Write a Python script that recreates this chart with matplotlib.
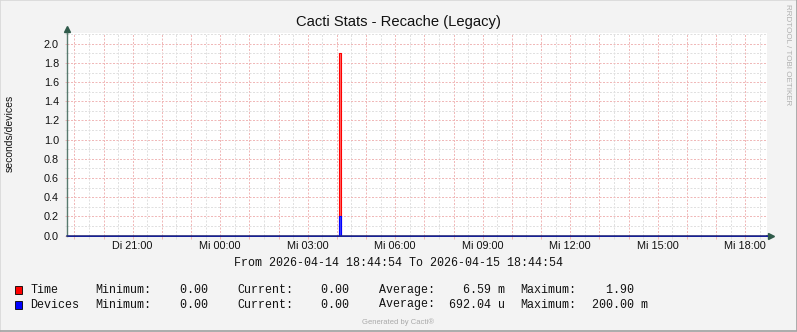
import matplotlib
matplotlib.use('Agg')
import matplotlib.pyplot as plt
import matplotlib.dates as mdates
from matplotlib.ticker import MultipleLocator, FuncFormatter
from matplotlib.lines import Line2D
from matplotlib.patches import Rectangle
import pandas as pd

# time range shown
start = pd.Timestamp('2026-04-14 18:44:54')
end = pd.Timestamp('2026-04-15 18:44:54')

# samples (step data, value holds until next sample)
sample_times = pd.to_datetime(['2026-04-14 18:44:54', '2026-04-15 04:03:30',
                               '2026-04-15 04:09:00', '2026-04-15 18:44:54'])
time_values = [0.0, 1.90, 0.0, 0.0]
device_values = [0.0, 0.20, 0.0, 0.0]

weekday_de = ['Mo', 'Di', 'Mi', 'Do', 'Fr', 'Sa', 'So']

# legend stats
series_names = ['Time', 'Devices']
series_colors = ['#FF0000', '#0000FF']
min_values = [0.00, 0.00]
min_units = ['', '']
cur_values = [0.00, 0.00]
cur_units = ['', '']
avg_values = [6.59, 692.04]
avg_units = ['m', 'u']
max_values = [1.90, 200.00]
max_units = ['', 'm']

W, H = 797, 332
def fx(px):
    return px / W
def fy(py):
    return 1 - py / H

fig = plt.figure(figsize=(W / 100, H / 100), dpi=100, facecolor='#f3f3f3')

left, right, top, bottom = 67, 767, 33, 235.5
ax = fig.add_axes([fx(left), fy(bottom), (right - left) / W, (bottom - top) / H])
ax.set_facecolor('white')

sans = 'Liberation Sans'
mono = 'Liberation Mono'

ax.fill_between(sample_times, time_values, step='post', facecolor='#ff6a6a',
                edgecolor='#ff0000', linewidth=0.8, zorder=3)
ax.fill_between(sample_times, device_values, step='post', facecolor='#4040ff',
                edgecolor='#0000ff', linewidth=0.8, zorder=4)

ax.set_xlim(start, end)
ax.set_ylim(0, 2.112)

# grid: red every hour / 0.2, grey every half hour / 0.1
ax.xaxis.set_major_locator(mdates.HourLocator(interval=1))
ax.xaxis.set_minor_locator(mdates.MinuteLocator(byminute=[30]))
ax.yaxis.set_major_locator(MultipleLocator(0.2))
ax.yaxis.set_minor_locator(MultipleLocator(0.1))


def xfmt(x, pos):
    t = pd.Timestamp(mdates.num2date(x)).tz_localize(None).round('min')
    if t.hour % 3 == 0 and t.minute == 0:
        return f"{weekday_de[t.weekday()]} {t:%H:%M}"
    return ''


ax.xaxis.set_major_formatter(FuncFormatter(xfmt))
ax.yaxis.set_major_formatter(FuncFormatter(lambda v, p: f"{v:.1f}"))

dash = (0, (2, 1.5))
ax.grid(which='major', color='#f0b8b8', linestyle=dash, linewidth=0.72)
ax.grid(which='minor', color='#e0e0e0', linestyle=dash, linewidth=0.72)
ax.set_axisbelow(True)

ax.tick_params(which='major', length=1.8, width=0.72, color='#f0b8b8')
ax.tick_params(which='minor', length=1.8, width=0.72, color='#e0e0e0')
ax.tick_params(axis='y', which='major', pad=4, labelsize=7.8)
ax.tick_params(axis='x', which='major', pad=2, labelsize=7.8)
for lab in ax.get_xticklabels() + ax.get_yticklabels():
    lab.set_family(sans)
    lab.set_color('#111111')

for s in ['top', 'right']:
    ax.spines[s].set_visible(False)
ax.spines['left'].set_color('#587a6e')
ax.spines['left'].set_linewidth(1.0)
ax.spines['bottom'].set_color('#1e2a78')
ax.spines['bottom'].set_linewidth(1.1)
ax.spines['left'].set_zorder(5)
ax.spines['bottom'].set_zorder(5)

# axis extensions and arrows
ax.plot([0, 0], [1, 1.02], transform=ax.transAxes, color='#587a6e', lw=1.0, clip_on=False)
ax.plot([1, 1.004], [0, 0], transform=ax.transAxes, color='#1e2a78', lw=1.1, clip_on=False)
ax.plot([0], [1.02], marker='^', ms=4.5, color='#2f5a4a', transform=ax.transAxes, clip_on=False)
ax.plot([1.006], [0], marker='>', ms=4.5, color='#2f5a4a', transform=ax.transAxes, clip_on=False)

# texts
fig.text(0.5, fy(22), 'Cacti Stats - Recache (Legacy)', ha='center', va='center',
         fontsize=10.6, family=sans, color='#111111')
fig.text(fx(10), fy(133), 'seconds/devices', rotation=90, ha='center', va='center',
         fontsize=7.5, family=sans, color='#111111')
fig.text(fx(788), fy(55), 'RRDTOOL / TOBI OETIKER', rotation=270, ha='center', va='center',
         fontsize=5.8, family=sans, color='#b0b0b0')
fig.text(fx(398), fy(263), f"From {start:%Y-%m-%d %H:%M:%S} To {end:%Y-%m-%d %H:%M:%S}",
         ha='center', va='center', fontsize=8.4, family=mono, color='#111111')

row_y = [290, 304.5]
for i in range(len(series_names)):
    y = row_y[i]
    fig.add_artist(Rectangle((fx(15), fy(y + 4)), 7 / W, 8 / H, transform=fig.transFigure,
                             facecolor=series_colors[i], edgecolor='black', linewidth=0.6))
    items = [
        (30.4, series_names[i]),
        (95, 'Minimum:'),
        (152, f"{min_values[i]:8.2f} {min_units[i]}"),
        (237, 'Current:'),
        (293, f"{cur_values[i]:8.2f} {cur_units[i]}"),
        (379, 'Average:'),
        (435, f"{avg_values[i]:8.2f} {avg_units[i]}"),
        (520.5, 'Maximum:'),
        (578, f"{max_values[i]:8.2f} {max_units[i]}"),
    ]
    for px, txt in items:
        fig.text(fx(px), fy(y), txt, ha='left', va='center', fontsize=8.4,
                 family=mono, color='#111111')

fig.text(fx(398), fy(322), 'Generated by Cacti®', ha='center', va='center',
         fontsize=5.5, family=sans, color='#aaaaaa')

# image frame
fig.add_artist(Line2D([0, 0, 1], [0, 1, 1], transform=fig.transFigure, color='#d8d8d8', lw=1.2))
fig.add_artist(Line2D([0, 1, 1], [0.002, 0.002, 1], transform=fig.transFigure, color='#a0a0a0', lw=1.2))

fig.savefig('out.png', dpi=100, facecolor=fig.get_facecolor())
